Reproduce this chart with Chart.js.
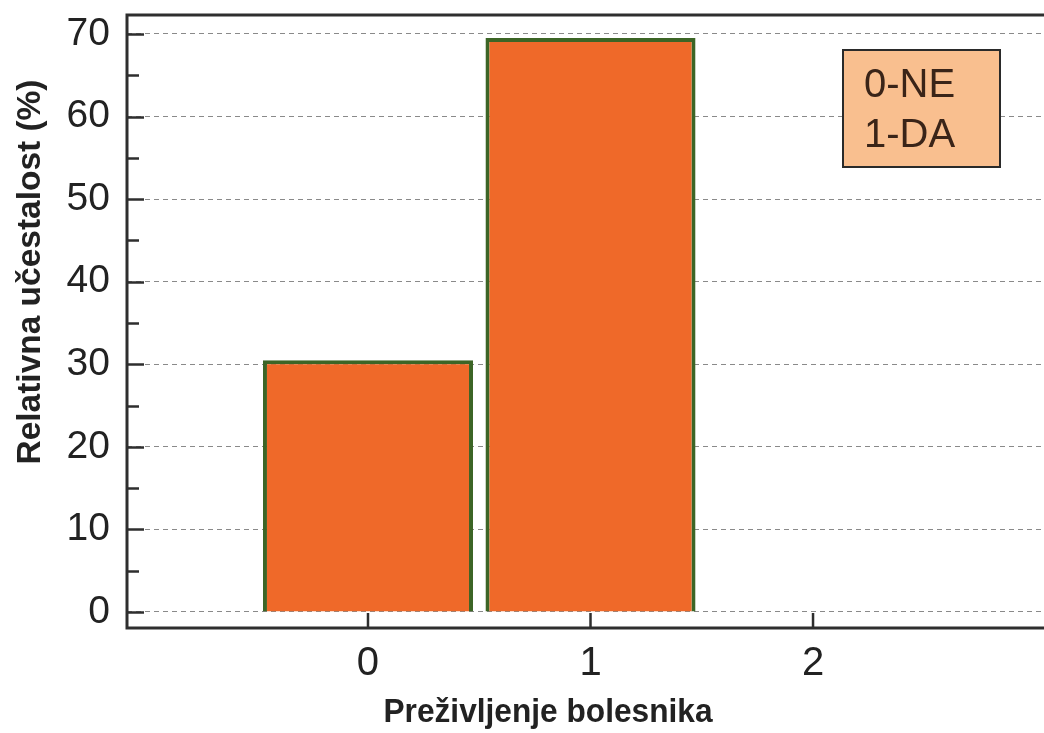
<!DOCTYPE html>
<html>
<head>
<meta charset="utf-8">
<script src="https://cdn.jsdelivr.net/npm/chart.js@4"></script>
<style>
html,body{margin:0;padding:0;background:#fff;}
#wrap{position:relative;width:1044px;height:733px;}
canvas{display:block;}
</style>
</head>
<body>
<div id="wrap"><canvas id="c" width="1044" height="733"></canvas></div>
<script>
// ---- data ----
const categories = [0, 1];
const relFreq = [30.5, 69.5];
const xTickValues = [0, 1, 2];
const yTickValues = [0, 10, 20, 30, 40, 50, 60, 70];
const yMinorTickValues = [5, 15, 25, 35, 45, 55, 65];
const xTitle = 'Preživljenje bolesnika';
const yTitle = 'Relativna učestalost (%)';
const legendLines = ['0-NE', '1-DA'];

const FONT = "'Liberation Sans', Arial, sans-serif";
const AXIS = '#2e2e2e';

const framePlugin = {
  id: 'frame',
  afterDraw(chart) {
    const {ctx, chartArea: a, scales: {x, y}} = chart;
    ctx.save();
    ctx.strokeStyle = AXIS;
    ctx.lineWidth = 3;
    ctx.lineCap = 'butt';
    // frame lines
    ctx.beginPath();
    ctx.moveTo(chart.width, a.top); ctx.lineTo(a.left, a.top);
    ctx.lineTo(a.left, a.bottom); ctx.lineTo(chart.width, a.bottom);
    ctx.stroke();
    // y ticks inward
    ctx.lineWidth = 2.5;
    yTickValues.forEach(v => {
      const py = Math.round(y.getPixelForValue(v)) + 0.5;
      ctx.beginPath(); ctx.moveTo(a.left, py); ctx.lineTo(a.left + 17, py); ctx.stroke();
    });
    yMinorTickValues.forEach(v => {
      const py = Math.round(y.getPixelForValue(v)) + 0.5;
      ctx.beginPath(); ctx.moveTo(a.left, py); ctx.lineTo(a.left + 12, py); ctx.stroke();
    });
    // x ticks inward
    xTickValues.forEach(v => {
      const px = x.getPixelForValue(v);
      ctx.beginPath(); ctx.moveTo(px, a.bottom); ctx.lineTo(px, a.bottom - 15); ctx.stroke();
    });
    // axis titles
    ctx.fillStyle = '#222';
    ctx.font = 'bold 33px ' + FONT;
    ctx.textAlign = 'center';
    ctx.textBaseline = 'middle';
    let w = ctx.measureText(xTitle).width;
    ctx.save();
    ctx.translate(548, 713);
    ctx.scale(329 / w, 1);
    ctx.fillText(xTitle, 0, 0);
    ctx.restore();
    w = ctx.measureText(yTitle).width;
    ctx.save();
    ctx.translate(31, 272);
    ctx.rotate(-Math.PI / 2);
    ctx.scale(385 / w, 1);
    ctx.fillText(yTitle, 0, 0);
    ctx.restore();
    // legend box
    const bx = 843, by = 50, bw = 157, bh = 117;
    ctx.fillStyle = '#f9bf8f';
    ctx.fillRect(bx, by, bw, bh);
    ctx.strokeStyle = '#2a2a2a';
    ctx.lineWidth = 2;
    ctx.strokeRect(bx, by, bw, bh);
    ctx.fillStyle = '#3a2418';
    ctx.font = '40px ' + FONT;
    ctx.textAlign = 'left';
    ctx.textBaseline = 'alphabetic';
    legendLines.forEach((t, i) => ctx.fillText(t, 864, 97 + i * 50));
    ctx.restore();
  }
};

new Chart(document.getElementById('c'), {
  type: 'bar',
  data: {
    datasets: [{
      data: categories.map((c, i) => ({x: c, y: relFreq[i]})),
      backgroundColor: '#ef6929',
      borderColor: '#3c6526',
      borderWidth: 4,
      borderSkipped: 'start',
      categoryPercentage: 1,
      barPercentage: 0.944
    }]
  },
  options: {
    responsive: false,
    animation: false,
    devicePixelRatio: 1,
    layout: {padding: {left: 0, top: 15, right: 0, bottom: 0}},
    plugins: {legend: {display: false}, tooltip: {enabled: false}},
    scales: {
      x: {
        type: 'linear',
        min: -1.083, max: 3.038,
        offset: false,
        afterBuildTicks: s => { s.ticks = xTickValues.map(v => ({value: v})); },
        afterFit: s => { s.height = 105; s.paddingLeft = 0; s.paddingRight = 0; },
        grid: {display: false, drawTicks: false},
        border: {display: false},
        ticks: {font: {family: FONT, size: 40}, color: '#222', padding: 12,
                callback: v => String(v), maxRotation: 0, autoSkip: false}
      },
      y: {
        type: 'linear',
        min: -1.94, max: 72.3,
        afterBuildTicks: s => { s.ticks = yTickValues.map(v => ({value: v})); },
        afterFit: s => { s.width = 127; s.paddingTop = 0; s.paddingBottom = 0; },
        grid: {color: '#8a8a8a', lineWidth: 1, drawTicks: false},
        border: {display: false, dash: [5, 4]},
        ticks: {font: {family: FONT, size: 39}, color: '#222', padding: 17,
                callback: v => String(v)}
      }
    }
  },
  plugins: [framePlugin]
});
</script>
</body>
</html>
